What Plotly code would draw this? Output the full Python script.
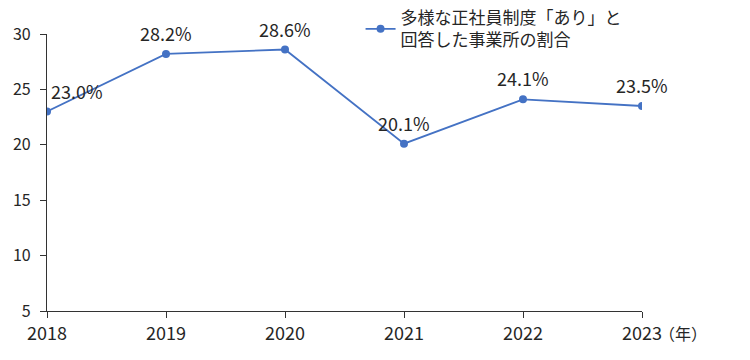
import plotly.graph_objects as go

years = [2018, 2019, 2020, 2021, 2022, 2023]
values = [23.0, 28.2, 28.6, 20.1, 24.1, 23.5]
labels = ["23.0%", "28.2%", "28.6%", "20.1%", "24.1%", "23.5%"]
label_xshift = [30, 0, 0, 0, 0, 0]
series_name = "多様な正社員制度「あり」と<br>回答した事業所の割合"
y_ticks = [5, 10, 15, 20, 25, 30]

FONT = "Noto Sans CJK JP"
TXT = "#262626"
BLUE = "#4472C4"

fig = go.Figure()
fig.add_trace(go.Scatter(
    x=years, y=values, mode="lines+markers", name=series_name,
    line=dict(color=BLUE, width=1.8),
    marker=dict(color=BLUE, size=8),
    showlegend=True,
))

for x, y, t, dx in zip(years, values, labels, label_xshift):
    fig.add_annotation(x=x, y=y, text=t, showarrow=False, xshift=dx, yshift=21,
                       font=dict(family=FONT, size=18, color=TXT))

fig.add_annotation(x=1.0, y=0, xref="paper", yref="paper", text="（年）", showarrow=False,
                   xanchor="left", yanchor="top", xshift=15, yshift=-8,
                   font=dict(family=FONT, size=16, color=TXT))

fig.update_layout(
    width=750, height=360,
    margin=dict(l=47, r=108, t=34, b=49, autoexpand=False),
    paper_bgcolor="white", plot_bgcolor="white",
    font=dict(family=FONT, size=16, color=TXT),
    legend=dict(x=0.527, y=1.122, xanchor="left", yanchor="top",
                font=dict(family=FONT, size=17, color=TXT),
                bgcolor="rgba(0,0,0,0)", itemwidth=30),
    xaxis=dict(range=[2018, 2023], tickvals=years, ticktext=[str(y) for y in years],
               showgrid=False, zeroline=False, showline=True, linecolor="#333333", linewidth=1.3,
               ticks="outside", ticklen=6, tickcolor="#333333", automargin=False,
               tickfont=dict(family=FONT, size=18, color=TXT)),
    yaxis=dict(range=[5, 30], tickvals=y_ticks,
               showgrid=False, zeroline=False, showline=True, linecolor="#333333", linewidth=1.3,
               ticks="outside", ticklen=6, tickcolor="#333333", automargin=False,
               ticklabelstandoff=6,
               tickfont=dict(family=FONT, size=16, color=TXT)),
)

fig.write_html("out.html", config={"displayModeBar": False},
               post_script="document.body.style.margin='0';")
